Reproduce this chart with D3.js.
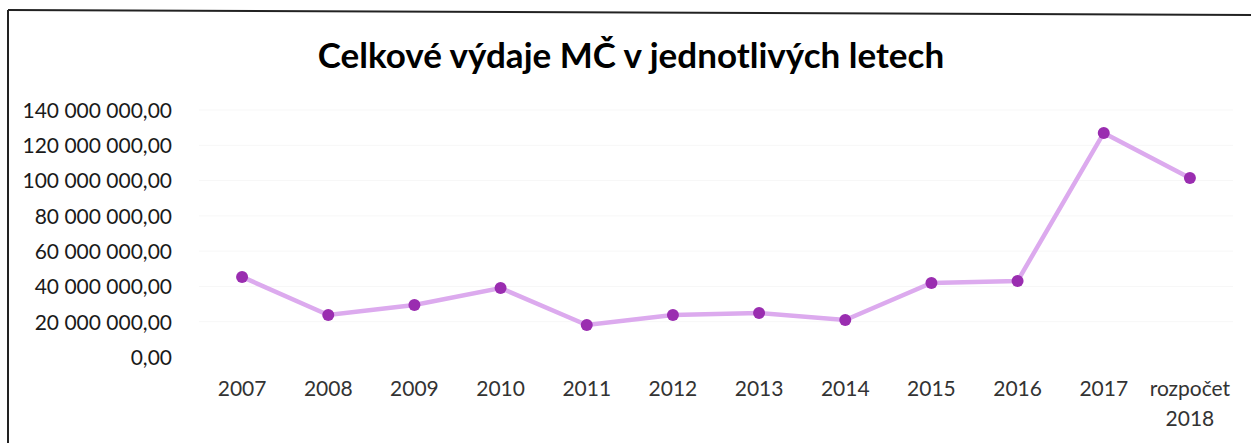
<!DOCTYPE html>
<html>
<meta charset="utf-8">
<style>
body { margin: 0; background: #fff; }
text { font-family: Lato, 'Open Sans', sans-serif; }
.tick text { fill: #1a1a1a; }
.x-label { fill: #333; }
</style>
<body>
<svg id="chart" width="1251" height="443"></svg>
<script src="https://d3js.org/d3.v7.min.js"></script>
<script>

// data (CZK)
var years = ["2007", "2008", "2009", "2010", "2011", "2012", "2013", "2014", "2015", "2016", "2017", "rozpočet 2018"];
var spending = [45400000, 23800000, 29500000, 39100000, 18100000, 23800000, 24900000, 21000000, 42000000, 43100000, 127000000, 101500000];
var yTicks = [0, 20000000, 40000000, 60000000, 80000000, 100000000, 120000000, 140000000];

var svg = d3.select("#chart"),
    margin = {top: 110, right: 18, bottom: 86, left: 199},
    width = +svg.attr("width") - margin.left - margin.right,
    height = +svg.attr("height") - margin.top - margin.bottom;

// frame of the scanned chart
svg.append("line").attr("x1", 8).attr("y1", 10).attr("x2", 1251).attr("y2", 15)
    .attr("stroke", "#222").attr("stroke-width", 2);
svg.append("line").attr("x1", 8).attr("y1", 10).attr("x2", 8).attr("y2", 443)
    .attr("stroke", "#222").attr("stroke-width", 2);

svg.append("text")
    .attr("x", 631)
    .attr("y", 68)
    .attr("text-anchor", "middle")
    .style("font-size", "35px")
    .style("font-weight", "bold")
    .style("fill", "#000")
    .text("Celkové výdaje MČ v jednotlivých letech");

var g = svg.append("g")
    .attr("transform", "translate(" + margin.left + "," + margin.top + ")");

var x = d3.scalePoint().domain(years).range([0, width]).padding(0.5),
    y = d3.scaleLinear().domain([0, 140000000]).range([height, 0]);

var fmt = function(v) {
    return d3.format(",.2f")(v).replace(/,/g, " ").replace(".", ",");
};

// faint gridlines
g.selectAll(".grid")
    .data(yTicks.slice(1))
    .enter().append("line")
    .attr("x1", 0).attr("x2", width)
    .attr("y1", function(d) { return y(d); })
    .attr("y2", function(d) { return y(d); })
    .attr("stroke", "#f7f7f7");

var yAxis = g.append("g")
    .attr("transform", "translate(-24,0)")
    .call(d3.axisLeft(y).tickValues(yTicks).tickFormat(fmt).tickSize(0));
yAxis.select(".domain").remove();
yAxis.selectAll("text").style("font-size", "21px").attr("dy", "0.35em");

// category labels, "rozpočet 2018" wraps on two lines
g.selectAll(".x-label")
    .data(years)
    .enter().append("text")
    .attr("class", "x-label")
    .attr("text-anchor", "middle")
    .style("font-size", "21px")
    .attr("transform", function(d) { return "translate(" + x(d) + "," + (height + 39) + ")"; })
    .each(function(d) {
        var parts = d.split(" ");
        var t = d3.select(this);
        parts.forEach(function(p, i) {
            t.append("tspan").attr("x", 0).attr("dy", i === 0 ? 0 : 30).text(p);
        });
    });

var line = d3.line()
    .x(function(d, i) { return x(years[i]); })
    .y(function(d) { return y(d); });

g.append("path")
    .datum(spending)
    .attr("fill", "none")
    .attr("stroke", "#dcaaee")
    .attr("stroke-width", 4.5)
    .attr("d", line);

g.selectAll(".dot")
    .data(spending)
    .enter().append("circle")
    .attr("cx", function(d, i) { return x(years[i]); })
    .attr("cy", function(d) { return y(d); })
    .attr("r", 6)
    .attr("fill", "#9a2db0");

</script>
</body>
</html>
